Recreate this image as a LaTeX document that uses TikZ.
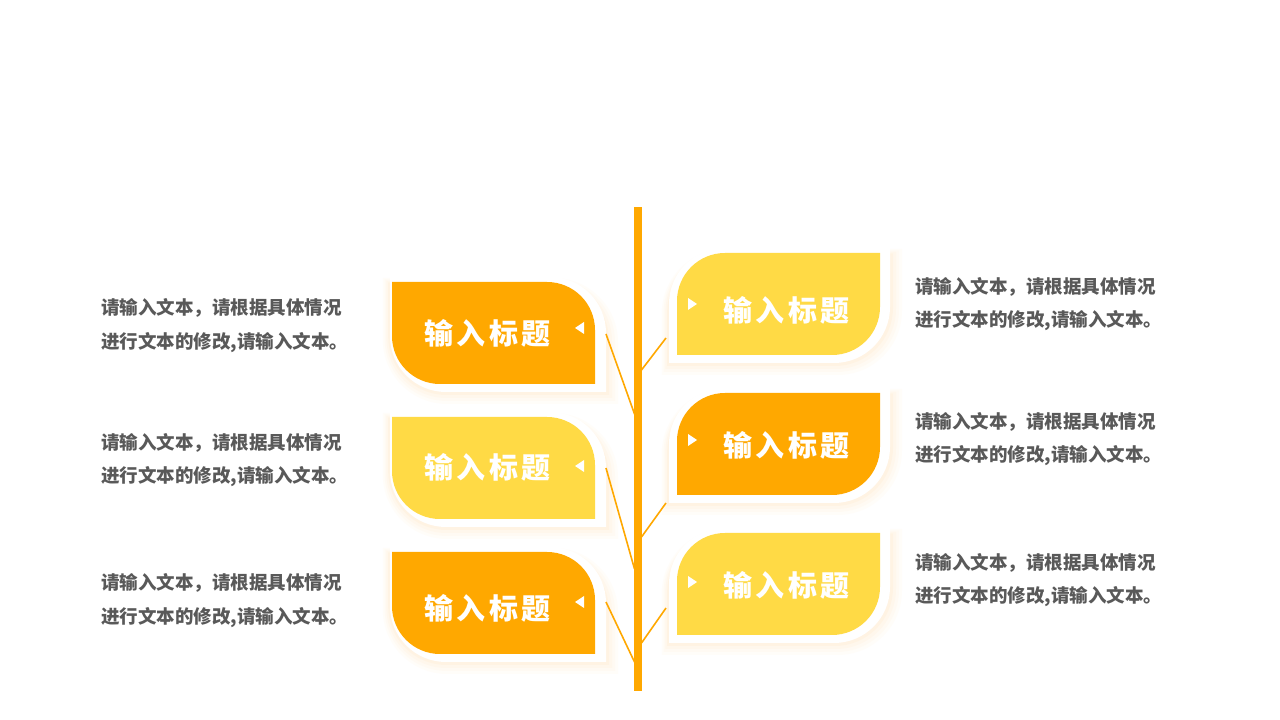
\documentclass[tikz,border=0pt]{standalone}
\usepackage{fontspec}
\newfontfamily\cjk{Noto Sans CJK SC}
\newfontfamily\cjkspaced{Noto Sans CJK SC}[LetterSpace=11]
\definecolor{dorange}{HTML}{FFA800}
\definecolor{lyellow}{HTML}{FFDA45}
\definecolor{bodygray}{HTML}{595959}
\definecolor{glow}{HTML}{FFD99A}
\tikzset{
  titletext/.style={text=white,font=\cjkspaced\bfseries\fontsize{29}{32}\selectfont,inner sep=0pt},
  bodytext/.style={text=bodygray,font=\cjk\bfseries\fontsize{18.5}{33.5}\selectfont,align=left,anchor=west,inner sep=0pt},
  conn/.style={draw=dorange,line width=1.6pt},
  tri/.style={fill=white}
}
% left box path: #1 x0, #2 x1, #3 top (px), #4 bottom (px), #5 radius
\newcommand{\lpath}[5]{({#1},{720-(#3)}) -- ({(#2)-(#5)},{720-(#3)}) arc[start angle=90,end angle=0,radius={#5}] -- ({#2},{720-(#4)}) -- ({(#1)+(#5)},{720-(#4)}) arc[start angle=270,end angle=180,radius={#5}] -- cycle}
\newcommand{\rpath}[5]{({(#1)+(#5)},{720-(#3)}) -- ({#2},{720-(#3)}) -- ({#2},{720-(#4)+(#5)}) arc[start angle=0,end angle=-90,radius={#5}] -- ({#1},{720-(#4)}) -- ({#1},{720-(#3)-(#5)}) arc[start angle=180,end angle=90,radius={#5}] -- cycle}
\newcommand{\leftitem}[2]{%
  \foreach \e/\o in {12/0.05,9/0.06,6/0.08,3/0.1}{
    \fill[glow,opacity=\o] \lpath{390-\e*0.6}{606+\e}{#1+2-\e*0.5}{#1+110+\e}{56+\e*0.7};
  }
  \fill[white] \lpath{390}{606}{#1-5}{#1+110}{56};
  \fill[#2] \lpath{392}{595}{#1}{#1+102}{48};
}
\newcommand{\rightitem}[2]{%
  \foreach \e/\o in {12/0.05,9/0.06,6/0.08,3/0.1}{
    \fill[glow,opacity=\o] \rpath{669-\e*0.6}{890+\e}{#1+2-\e*0.5}{#1+110+\e}{56+\e*0.7};
  }
  \fill[white] \rpath{669}{890}{#1-5}{#1+110}{56};
  \fill[#2] \rpath{677}{880}{#1}{#1+102}{48};
}
\begin{document}
\begin{tikzpicture}[x=1pt,y=1pt]
\useasboundingbox (0,0) rectangle (1280,720);
\fill[white] (0,0) rectangle (1280,720);

% boxes
\leftitem{282}{dorange}
\leftitem{417}{lyellow}
\leftitem{552}{dorange}
\rightitem{253}{lyellow}
\rightitem{393}{dorange}
\rightitem{533}{lyellow}

% trunk
\node[fill=dorange,minimum width=8pt,minimum height=484pt,inner sep=0pt,anchor=north] (trunk) at (638,720-207) {};

% connector coordinates
\coordinate (l1a) at (606,720-334); \coordinate (l1b) at (634.5,720-414);
\coordinate (l2a) at (606,720-468); \coordinate (l2b) at (634.5,720-569);
\coordinate (l3a) at (606,720-602); \coordinate (l3b) at (634.5,720-662);
\coordinate (r1a) at (641.5,720-370); \coordinate (r1b) at (666,720-338);
\coordinate (r2a) at (641.5,720-537); \coordinate (r2b) at (666,720-503);
\coordinate (r3a) at (641.5,720-643); \coordinate (r3b) at (666,720-608);
\draw[conn] (l1a) -- (l1b);
\draw[conn] (l2a) -- (l2b);
\draw[conn] (l3a) -- (l3b);
\draw[conn] (r1a) -- (r1b);
\draw[conn] (r2a) -- (r2b);
\draw[conn] (r3a) -- (r3b);

% titles
\node[titletext] (t1) at (487.5,720-333) {输入标题};
\node[titletext] (t2) at (487.5,720-467) {输入标题};
\node[titletext] (t3) at (487.5,720-608) {输入标题};
\node[titletext] (t4) at (786.5,720-310) {输入标题};
\node[titletext] (t5) at (786.5,720-445) {输入标题};
\node[titletext] (t6) at (786.5,720-585) {输入标题};

% triangles
\fill[tri] (575,720-328) -- (584,720-322) -- (584,720-334) -- cycle;
\fill[tri] (575,720-466) -- (584,720-460) -- (584,720-472) -- cycle;
\fill[tri] (575,720-602) -- (584,720-596) -- (584,720-608) -- cycle;
\fill[tri] (697,720-304) -- (688,720-298) -- (688,720-310) -- cycle;
\fill[tri] (697,720-440) -- (688,720-434) -- (688,720-446) -- cycle;
\fill[tri] (697,720-582) -- (688,720-576) -- (688,720-588) -- cycle;

% body texts
\node[bodytext] (b1) at (101,720-325.5) {请输入文本，请根据具体情况\\进行文本的修改,请输入文本。};
\node[bodytext] (b2) at (101,720-460) {请输入文本，请根据具体情况\\进行文本的修改,请输入文本。};
\node[bodytext] (b3) at (101,720-600.5) {请输入文本，请根据具体情况\\进行文本的修改,请输入文本。};
\node[bodytext] (b4) at (915,720-304) {请输入文本，请根据具体情况\\进行文本的修改,请输入文本。};
\node[bodytext] (b5) at (915,720-439) {请输入文本，请根据具体情况\\进行文本的修改,请输入文本。};
\node[bodytext] (b6) at (915,720-580) {请输入文本，请根据具体情况\\进行文本的修改,请输入文本。};
\end{tikzpicture}
\end{document}
